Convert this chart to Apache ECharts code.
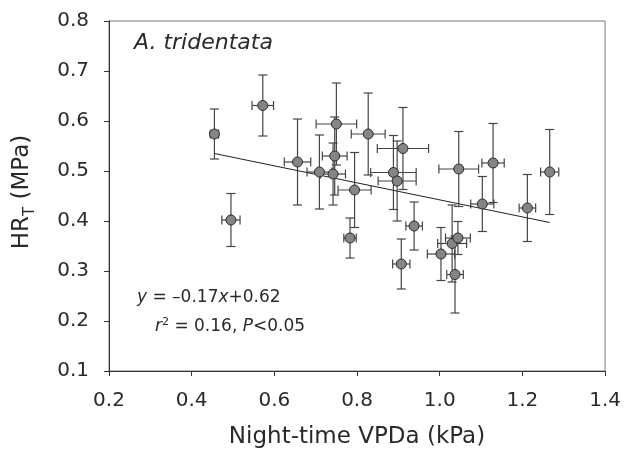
<!DOCTYPE html>
<html>
<head>
<meta charset="utf-8">
<script src="https://cdn.jsdelivr.net/npm/echarts@6/dist/echarts.min.js"></script>
<style>html,body{margin:0;padding:0;background:#fff}#c{width:624px;height:456px}</style>
</head>
<body>
<div id="c"></div>
<script>
// Night-time VPDa (kPa)
var vpd    = [0.455, 0.572, 0.656, 0.709, 0.750, 0.746, 0.742, 0.794, 0.827, 0.911, 0.888, 0.897, 1.046, 1.129, 1.266, 0.495, 0.783, 0.938, 0.907, 1.003, 1.030, 1.044, 1.037, 1.103, 1.212];
// HR_T (MPa)
var hr     = [0.574, 0.631, 0.518, 0.498, 0.594, 0.530, 0.494, 0.462, 0.574, 0.545, 0.497, 0.480, 0.504, 0.516, 0.498, 0.402, 0.366, 0.390, 0.314, 0.334, 0.355, 0.366, 0.293, 0.434, 0.426];
// horizontal error (kPa)
var vpdErr = [0.010, 0.026, 0.032, 0.030, 0.049, 0.030, 0.030, 0.040, 0.041, 0.062, 0.055, 0.046, 0.048, 0.027, 0.022, 0.022, 0.015, 0.020, 0.021, 0.033, 0.035, 0.030, 0.020, 0.028, 0.020];
// vertical error (MPa)
var hrErr  = [0.050, 0.061, 0.086, 0.074, 0.082, 0.078, 0.062, 0.075, 0.082, 0.082, 0.074, 0.080, 0.075, 0.079, 0.085, 0.053, 0.040, 0.048, 0.050, 0.053, 0.077, 0.033, 0.077, 0.055, 0.067];
// regression line end points
var fitX = [0.455, 1.266];
var fitY = [0.535, 0.397];
var xTicks = [0.2, 0.4, 0.6, 0.8, 1.0, 1.2, 1.4];
var yTicks = [0.1, 0.2, 0.3, 0.4, 0.5, 0.6, 0.7, 0.8];

var FONT = 'DejaVu Sans';
var pts = vpd.map(function (x, i) { return [x, hr[i], vpdErr[i], hrErr[i]]; });
var fit = fitX.map(function (x, i) { return [x, fitY[i]]; });

var chart = echarts.init(document.getElementById('c'), null, {renderer: 'canvas'});
var cap = 4.5;
chart.setOption({
  animation: false,
  backgroundColor: '#fff',
  grid: {left: 109, right: 18, top: 21, bottom: 85, show: true, borderColor: '#777', borderWidth: 1, backgroundColor: 'transparent'},
  xAxis: {
    type: 'value', min: xTicks[0], max: xTicks[xTicks.length - 1], interval: 0.2,
    axisLine: {onZero: false, lineStyle: {color: '#333', width: 1}},
    axisTick: {inside: false, length: 5, lineStyle: {color: '#333'}},
    splitLine: {show: false},
    axisLabel: {margin: 20, fontFamily: FONT, fontSize: 20, color: '#2a2a2a', formatter: function (v) { return v.toFixed(1); }}
  },
  yAxis: {
    type: 'value', min: yTicks[0], max: yTicks[yTicks.length - 1], interval: 0.1,
    axisLine: {onZero: false, lineStyle: {color: '#333', width: 1}},
    axisTick: {inside: false, length: 5, lineStyle: {color: '#333'}},
    splitLine: {show: false},
    axisLabel: {margin: 20, fontFamily: FONT, fontSize: 20, color: '#2a2a2a', formatter: function (v) { return v.toFixed(1); }}
  },
  graphic: [
    {type: 'text', left: 134, top: 32, style: {text: 'A. tridentata', font: 'italic 22px "DejaVu Sans"', fill: '#2a2a2a'}},
    {type: 'text', x: 137, y: 298, style: {
      text: '{i|y} = –0.17{i|x}+0.62', verticalAlign: 'middle', fill: '#2a2a2a',
      font: '17px "DejaVu Sans"',
      rich: {i: {fontStyle: 'italic', fontFamily: FONT, fontSize: 17, fill: '#2a2a2a'}}
    }},
    {type: 'text', x: 155, y: 327, style: {
      text: '{i|r}{s|2} = 0.16, {i|P}<0.05', verticalAlign: 'middle', fill: '#2a2a2a',
      font: '17px "DejaVu Sans"',
      rich: {
        i: {fontStyle: 'italic', fontFamily: FONT, fontSize: 17, fill: '#2a2a2a', lineHeight: 20},
        s: {fontFamily: FONT, fontSize: 11, fill: '#2a2a2a', verticalAlign: 'top', lineHeight: 11, padding: [0, 0, 9, 0]}
      }
    }},
    {type: 'text', x: 357, y: 437, style: {
      text: 'Night-time VPDa (kPa)', align: 'center', verticalAlign: 'middle',
      font: '23px "DejaVu Sans"', fill: '#2a2a2a'
    }},
    {type: 'text', x: 20, y: 192, rotation: Math.PI / 2, style: {
      text: '{m|HR}{t|T}{m| (MPa)}', align: 'center', verticalAlign: 'middle', fill: '#2a2a2a',
      rich: {
        m: {fontFamily: FONT, fontSize: 23, fill: '#2a2a2a', lineHeight: 28, verticalAlign: 'bottom'},
        t: {fontFamily: FONT, fontSize: 15, fill: '#2a2a2a', lineHeight: 15, verticalAlign: 'bottom', padding: [0, 0, -4, 0]}
      }
    }}
  ],
  series: [
    {
      type: 'custom', data: pts, z: 2,
      renderItem: function (params, api) {
        var x = api.value(0), y = api.value(1), xe = api.value(2), ye = api.value(3);
        var top = api.coord([x, y + ye]), bot = api.coord([x, y - ye]);
        var lft = api.coord([x - xe, y]), rgt = api.coord([x + xe, y]);
        var st = {stroke: '#444', lineWidth: 1.2};
        function ln(a, b, c, d) { return {type: 'line', shape: {x1: a, y1: b, x2: c, y2: d}, style: st}; }
        return {type: 'group', children: [
          ln(top[0], top[1], bot[0], bot[1]),
          ln(top[0] - cap, top[1], top[0] + cap, top[1]),
          ln(bot[0] - cap, bot[1], bot[0] + cap, bot[1]),
          ln(lft[0], lft[1], rgt[0], rgt[1]),
          ln(lft[0], lft[1] - cap, lft[0], lft[1] + cap),
          ln(rgt[0], rgt[1] - cap, rgt[0], rgt[1] + cap)
        ]};
      }
    },
    {
      type: 'line', data: fit, symbol: 'none', z: 3,
      lineStyle: {color: '#222', width: 1}
    },
    {
      type: 'scatter', data: pts.map(function (p) { return [p[0], p[1]]; }), z: 4,
      symbol: 'circle', symbolSize: 10,
      itemStyle: {color: '#858585', borderColor: '#2a2a2a', borderWidth: 1, opacity: 1}
    }
  ]
});
</script>
</body>
</html>
